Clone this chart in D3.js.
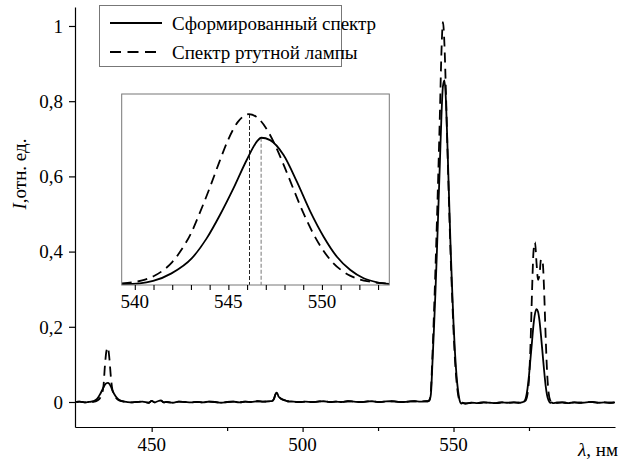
<!DOCTYPE html>
<html><head><meta charset="utf-8">
<script src="https://cdn.jsdelivr.net/npm/d3@7"></script>
</head>
<body style="margin:0;background:#fff">
<svg id="chart" width="624" height="467" font-family="Liberation Serif"></svg>
<script>
// ---------- DATA ----------
const wavelength = [425,426,427,428,429,430,431,432,433,434,434.5,435,435.5,436,436.5,437,438,439,440,441,
443,445,447,449,450,451,452,453,454,455,457,459,461,463,465,467,469,471,473,475,477,479,481,483,485,487,489,
490,490.5,491,491.5,492,492.5,493,494,495,
497,499,501,503,505,507,509,511,513,515,517,519,521,523,525,527,529,531,533,535,537,539,541,
541.5,542,542.5,543,543.5,544,544.5,545,545.5,546,546.5,547,547.5,548,548.5,549,549.5,550,550.5,551,551.5,552,552.5,553,
554,556,558,560,562,564,566,568,570,572,
572.5,573,573.5,574,574.5,575,575.5,576,576.5,577,577.5,578,578.5,579,579.5,580,580.5,581,581.5,582,582.5,583,
584,586,588,590,592,594,596,598,600,602,603.5];

const formed = [0,0.001,0,-0.001,0,0.001,0.003,0.009,0.022,0.038,0.046,0.050,0.051,0.048,0.041,0.031,0.016,0.007,0.003,0.001,
-0.001,0,0.001,-0.002,0.003,-0.001,0.002,0.004,-0.001,0,-0.002,0.001,0,-0.001,0,-0.001,0.001,0,-0.002,0,0.001,-0.001,0.001,0,0.002,0.001,0.002,
0.003,0.008,0.020,0.025,0.015,0.011,0.008,0.005,0.002,
0.001,0,0.001,0,0.001,0.002,0,0.001,0,0.002,0.001,0,0.001,0.002,0,0.001,0.002,0.001,0,0.001,0.002,0.001,0.002,
0.002,0.004,0.020,0.100,0.190,0.290,0.400,0.520,0.640,0.760,0.840,0.855,0.800,0.680,0.550,0.420,0.310,0.210,0.130,0.070,0.030,0.005,-0.004,-0.003,
-0.004,-0.002,-0.003,-0.001,-0.002,-0.003,-0.001,-0.002,-0.001,-0.002,
-0.001,0,0.002,0.012,0.035,0.070,0.115,0.160,0.205,0.235,0.247,0.240,0.215,0.175,0.130,0.085,0.045,0.018,0.004,-0.002,-0.001,-0.003,
-0.002,-0.001,-0.003,-0.001,-0.002,-0.001,0,-0.002,-0.001,-0.002,-0.001];

const mercury = [0,0.001,0,-0.001,0,0,0.001,0.004,0.012,0.040,0.095,0.135,0.145,0.115,0.065,0.032,0.013,0.005,0.002,0.001,
-0.001,0,0.001,-0.002,0.003,-0.001,0.002,0.004,-0.001,0,-0.002,0.001,0,-0.001,0,-0.001,0.001,0,-0.002,0,0.001,-0.001,0.001,0,0.002,0.001,0.002,
0.003,0.008,0.020,0.025,0.015,0.011,0.008,0.005,0.002,
0.001,0,0.001,0,0.001,0.002,0,0.001,0,0.002,0.001,0,0.001,0.002,0,0.001,0.002,0.001,0,0.001,0.002,0.001,0.002,
0.002,0.005,0.030,0.120,0.230,0.350,0.480,0.620,0.770,0.930,1.010,0.950,0.820,0.670,0.530,0.400,0.290,0.190,0.110,0.055,0.020,0.003,-0.003,-0.002,
-0.004,-0.002,-0.003,-0.001,-0.002,-0.003,-0.001,-0.002,-0.001,-0.002,
-0.001,0,0.001,0.005,0.020,0.060,0.150,0.290,0.400,0.425,0.370,0.325,0.340,0.380,0.375,0.300,0.180,0.080,0.025,0.005,0,-0.002,
-0.002,-0.001,-0.003,-0.001,-0.002,-0.001,0,-0.002,-0.001,-0.002,-0.001];

const insetMercuryWl = [539.3,540,540.5,541,541.5,542,542.5,543,543.5,544,544.5,545,545.5,546,546.1,546.5,547,547.5,548,548.5,549,549.5,550,550.5,551,551.5,552,552.5,553,553.6];
const insetMercury = [0.004,0.012,0.024,0.046,0.080,0.130,0.205,0.300,0.430,0.570,0.720,0.860,0.962,1.008,1.010,0.993,0.929,0.825,0.696,0.558,0.424,0.307,0.211,0.137,0.085,0.050,0.028,0.015,0.007,0.003];

const insetFormedWl = [539.3,540.27,540.98,541.96,543.04,543.84,544.55,545.27,545.98,546.52,546.75,547.23,547.95,548.66,549.38,550.09,550.8,551.52,552.23,552.95,553.6];
const insetFormed = [0,0.004,0.018,0.063,0.152,0.271,0.410,0.568,0.737,0.846,0.869,0.855,0.766,0.608,0.430,0.281,0.162,0.083,0.034,0.010,0];

const insetPeakWl = [546.13, 546.75];
const insetPeakVal = [1.010, 0.869];

const yTicks = [0, 0.2, 0.4, 0.6, 0.8, 1];
const yTickLabels = ["0", "0,2", "0,4", "0,6", "0,8", "1"];
const xTicksMajor = [450, 500, 550];
const xTicksMinor = [475, 525, 575];
const insetTicksMajor = [540, 545, 550];
const insetTicksMinor = [541,542,543,544,546,547,548,549,551,552,553];

const legendLabels = ["Сформированный спектр", "Спектр ртутной лампы"];
const xLabel = ["λ", ", нм"];
const yLabel = ["I", ",отн. ед."];

// ---------- CHART ----------
const svg = d3.select("#chart");
const black = "#000";
const FONT = 19;
const FAMILY = "Liberation Serif";

const x = d3.scaleLinear().domain([424.6, 603.5]).range([75, 615]);
const y = d3.scaleLinear().domain([-0.0665, 1.0505]).range([427, 7]);

// tick marks via axis generators (labels drawn as plain text below)
const xAxisG = svg.append("g").attr("transform", `translate(0,${y.range()[0]})`)
  .call(d3.axisBottom(x).tickValues(xTicksMajor).tickSize(5).tickSizeOuter(0).tickFormat(""));
const xMinorG = svg.append("g").attr("transform", `translate(0,${y.range()[0]})`)
  .call(d3.axisBottom(x).tickValues(xTicksMinor).tickSize(4).tickSizeOuter(0).tickFormat(""));
xMinorG.select(".domain").remove();
const yAxisG = svg.append("g").attr("transform", `translate(${x.range()[0]},0)`)
  .call(d3.axisLeft(y).tickValues(yTicks).tickSize(6).tickSizeOuter(0).tickFormat(""));
[xAxisG, xMinorG, yAxisG].forEach(g=>{
  g.selectAll("text").remove();
  g.selectAll("path,line").attr("stroke", black).attr("stroke-width", 1.2);
});

function txt(parent){
  return parent.append("text").attr("font-family", FAMILY).attr("font-size", FONT).attr("fill", black);
}
xTicksMajor.forEach(v=>{
  txt(svg).attr("x", x(v)).attr("y", y.range()[0] + 24).attr("text-anchor","middle").text(d3.format("d")(v));
});
yTicks.forEach((v,i)=>{
  txt(svg).attr("x", x.range()[0] - 12).attr("y", y(v)).attr("dy","0.36em").attr("text-anchor","end").text(yTickLabels[i]);
});

// main curves
const line = d3.line().x(d=>x(d[0])).y(d=>y(d[1])).curve(d3.curveMonotoneX);
const formedPts = wavelength.map((w,i)=>[w, formed[i]]);
const mercuryPts = wavelength.map((w,i)=>[w, mercury[i]]);

svg.append("path").datum(mercuryPts).attr("d", line)
  .attr("fill","none").attr("stroke",black).attr("stroke-width",1.8).attr("stroke-dasharray","10,6");
svg.append("path").datum(formedPts).attr("d", line)
  .attr("fill","none").attr("stroke",black).attr("stroke-width",1.8);

// axis labels
const xl = txt(svg).attr("x", 618).attr("y", 456).attr("text-anchor","end");
xl.append("tspan").attr("font-style","italic").text(xLabel[0]);
xl.append("tspan").text(xLabel[1]);

const yl = txt(svg).attr("transform","translate(26,174) rotate(-90)").attr("text-anchor","middle");
yl.append("tspan").attr("font-style","italic").text(yLabel[0]);
yl.append("tspan").text(yLabel[1]);

// legend
const lg = svg.append("g");
lg.append("rect").attr("x",99.5).attr("y",5.5).attr("width",242).attr("height",61)
  .attr("fill","#fff").attr("stroke","#777").attr("stroke-width",1);
const legRows = [23, 52];
legendLabels.forEach((t,i)=>{
  lg.append("line").attr("x1",110).attr("x2",162).attr("y1",legRows[i]).attr("y2",legRows[i])
    .attr("stroke",black).attr("stroke-width",1.8).attr("stroke-dasharray", i===1 ? "11,6.5" : null);
  txt(lg).attr("x",172).attr("y",legRows[i]).attr("dy","0.35em").text(t);
});

// inset
const ix = d3.scaleLinear().domain([539.3, 553.6]).range([121.7, 389.3]);
const iy = d3.scaleLinear().domain([-0.006, 1.129]).range([285, 94]);
const ig = svg.append("g");
ig.append("rect").attr("x",ix.range()[0]).attr("y",iy.range()[1])
  .attr("width",ix.range()[1]-ix.range()[0]).attr("height",iy.range()[0]-iy.range()[1])
  .attr("fill","#fff").attr("stroke","none");
ig.append("clipPath").attr("id","insetClip").append("rect")
  .attr("x",ix.range()[0]).attr("y",iy.range()[1])
  .attr("width",ix.range()[1]-ix.range()[0]).attr("height",iy.range()[0]-iy.range()[1]);

const iline = d3.line().x(d=>ix(d[0])).y(d=>iy(d[1])).curve(d3.curveMonotoneX);
const cg = ig.append("g").attr("clip-path","url(#insetClip)");
insetPeakWl.forEach((w,i)=>{
  cg.append("line").attr("x1",ix(w)).attr("x2",ix(w)).attr("y1",iy(insetPeakVal[i])).attr("y2",iy.range()[0])
    .attr("stroke", i===0 ? "#222" : "#777").attr("stroke-width",1).attr("stroke-dasharray","4,2");
});
cg.append("path").datum(insetMercuryWl.map((w,i)=>[w,insetMercury[i]])).attr("d",iline)
  .attr("fill","none").attr("stroke",black).attr("stroke-width",1.8).attr("stroke-dasharray","10,6");
cg.append("path").datum(insetFormedWl.map((w,i)=>[w,insetFormed[i]])).attr("d",iline)
  .attr("fill","none").attr("stroke",black).attr("stroke-width",1.8);

ig.append("rect").attr("x",ix.range()[0]).attr("y",iy.range()[1])
  .attr("width",ix.range()[1]-ix.range()[0]).attr("height",iy.range()[0]-iy.range()[1])
  .attr("fill","none").attr("stroke","#777").attr("stroke-width",1);

const iaxis = ig.append("g").attr("transform",`translate(0,${iy.range()[0]})`)
  .call(d3.axisBottom(ix).tickValues(insetTicksMajor.concat(insetTicksMinor)).tickSize(5).tickSizeOuter(0).tickFormat(""));
iaxis.select(".domain").remove();
iaxis.selectAll("text").remove();
iaxis.selectAll("line").attr("stroke",black).attr("stroke-width",1.1);
insetTicksMajor.forEach(v=>{
  txt(ig).attr("x", ix(v)).attr("y", iy.range()[0] + 23).attr("text-anchor","middle").text(d3.format("d")(v));
});
</script>
</body></html>
